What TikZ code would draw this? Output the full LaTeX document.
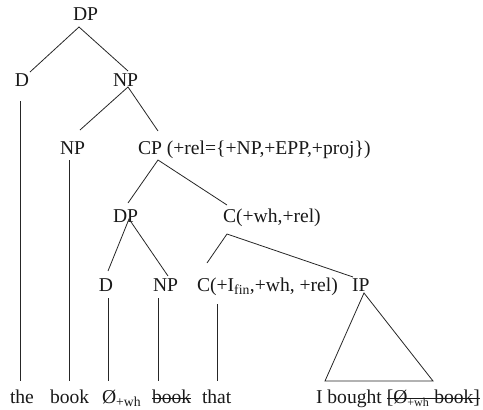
\documentclass[tikz,border=0pt]{standalone}
\usepackage{fontspec}
\setmainfont{Liberation Serif}
\begin{document}
\begin{tikzpicture}[x=1pt,y=-1pt,
  lab/.style={anchor=base west,inner sep=0pt,outer sep=0pt,text=black!90,
    font=\fontsize{19.6}{23}\selectfont},
  edge/.style={line width=0.8pt,draw=black!85},
  strike/.style={line width=0.9pt,draw=black!90}]
\useasboundingbox (0,0) rectangle (483,410);
% labels
\node[lab] (dp1) at (73,20) {DP};
\node[lab] (d1) at (15,86) {D};
\node[lab] (np1) at (113,86) {NP};
\node[lab] (np2) at (60,154) {NP};
\node[lab] (cp) at (138,154) {CP (+rel=\{+NP,+EPP,+proj\})};
\node[lab] (dp2) at (113,222) {DP};
\node[lab] (cw) at (223,222) {C(+wh,+rel)};
\node[lab] (d2) at (99,291) {D};
\node[lab] (np3) at (153,291) {NP};
\node[lab] (cf) at (197,291) {C(+I\textsubscript{fin},+wh, +rel)};
\node[lab] (ip) at (352,291) {IP};
\node[lab] (w1) at (10,403) {the};
\node[lab] (w2) at (50,403) {book};
\node[lab] (w3) at (102,403) {Ø\textsubscript{+wh}};
\node[lab] (w4) at (152,403) {book};
\node[lab] (w5) at (202,403) {that};
\node[lab] (w6) at (316,403) {I bought [Ø\textsubscript{\fontsize{12}{14}\selectfont+wh} book]};
% connector ends
\coordinate (dp1-b) at (79,27);
\coordinate (d1-t) at (30,72);
\coordinate (np1-t) at (128,71);
\coordinate (np1-b) at (128,87);
\coordinate (np2-t) at (80,130);
\coordinate (cp-t) at (158,131);
\coordinate (d1-b) at (20,101);
\coordinate (w1-t) at (20,381);
\coordinate (np2-b) at (69,160);
\coordinate (w2-t) at (69,381);
\coordinate (cp-b) at (158,160);
\coordinate (dp2-t) at (128,203);
\coordinate (cw-t) at (227,205);
\coordinate (dp2-b) at (129,219);
\coordinate (d2-t) at (108,271);
\coordinate (np3-t) at (168,276);
\coordinate (cw-b) at (227,234);
\coordinate (cf-t) at (207,263);
\coordinate (ip-t) at (353,277);
\coordinate (d2-b) at (108,298);
\coordinate (w3-t) at (108,381);
\coordinate (np3-b) at (158,298);
\coordinate (w4-t) at (158,381);
\coordinate (cf-b) at (217,304);
\coordinate (w5-t) at (217,381);
\coordinate (ip-b) at (364,293);
\coordinate (tri-l) at (325,381);
\coordinate (tri-r) at (433,381);
% edges
\draw[edge] (d1-t) -- (dp1-b) -- (np1-t);
\draw[edge] (np2-t) -- (np1-b) -- (cp-t);
\draw[edge] (d1-b) -- (w1-t);
\draw[edge] (np2-b) -- (w2-t);
\draw[edge] (dp2-t) -- (cp-b) -- (cw-t);
\draw[edge] (d2-t) -- (dp2-b) -- (np3-t);
\draw[edge] (cf-t) -- (cw-b) -- (ip-t);
\draw[edge] (d2-b) -- (w3-t);
\draw[edge] (np3-b) -- (w4-t);
\draw[edge] (cf-b) -- (w5-t);
\draw[edge] (ip-b) -- (tri-l) -- (tri-r) -- cycle;
% strike-through
\draw[strike] ([yshift=4.5pt]w4.base west) -- ([yshift=4.5pt]w4.base east);
\draw[strike] ([xshift=71pt,yshift=4.5pt]w6.base west) -- ([yshift=4.5pt]w6.base east);
\end{tikzpicture}
\end{document}
